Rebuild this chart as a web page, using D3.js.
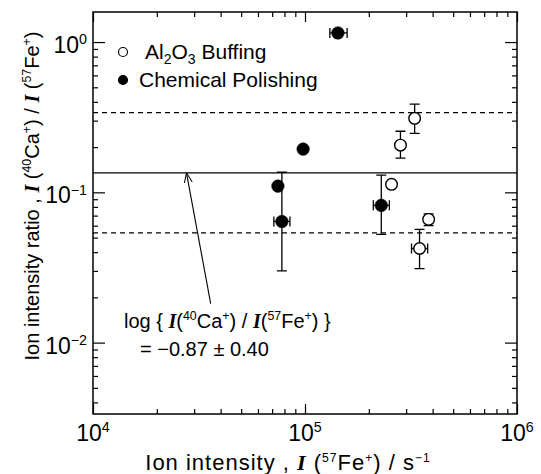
<!DOCTYPE html>
<html>
<head>
<meta charset="utf-8">
<script src="https://cdn.jsdelivr.net/npm/d3@7"></script>
<style>
  body { margin: 0; background: #fff; }
  svg { display: block; font-family: "Liberation Sans", Arial, sans-serif; }
  .frame { fill: none; stroke: #000; stroke-width: 1.5; }
  .axis path { display: none; }
  .axis line { stroke: #000; stroke-width: 1.2; }
</style>
</head>
<body>
<div id="chart"></div>
<script>
// ---- data ----
const xTicks = [1e4, 1e5, 1e6];
const xTickExp = ['4', '5', '6'];
const yTicks = [1e-2, 1e-1, 1e0];
const yTickExp = ['\u22122', '\u22121', '0'];

// Al2O3 buffing (open circles)
const buffX = [3.29e5, 2.82e5, 2.56e5, 3.83e5, 3.47e5];
const buffY = [0.311, 0.206, 0.113, 0.066, 0.0423];
const buffYLo = [0.247, 0.169, null, 0.060, 0.0311];
const buffYHi = [0.386, 0.255, null, 0.072, 0.0567];
const buffXLo = [null, null, null, null, 3.18e5];
const buffXHi = [null, null, null, null, 3.79e5];

// chemical polishing (filled circles)
const chemX = [1.43e5, 9.8e4, 7.45e4, 7.78e4, 2.29e5];
const chemY = [1.15, 0.194, 0.11, 0.064, 0.0819];
const chemYLo = [null, null, null, 0.030, 0.0525];
const chemYHi = [null, null, null, 0.136, 0.130];
const chemXLo = [1.31e5, null, null, 7.13e4, 2.10e5];
const chemXHi = [1.58e5, null, null, 8.49e4, 2.50e5];

// log mean and spread
const meanLog = -0.87;
const sdLog = 0.40;

// arrow (tail -> head), data coords
const arrowFrom = [3.59e4, 0.0182];
const arrowTo = [2.76e4, Math.pow(10, meanLog)];

const W = 541, H = 474;
const mLeft = 93, mRight = 517, mTop = 12, mBottom = 414;

const svg = d3.select('#chart').append('svg')
    .attr('width', W).attr('height', H);

const x = d3.scaleLog().domain([1e4, 1e6]).range([mLeft, mRight]);
const y = d3.scaleLog().domain([Math.pow(10, -2.475), Math.pow(10, 0.2)]).range([mBottom, mTop]);

// helper: text with superscripts / italic pieces
function richText(sel, parts, size, supScale) {
    let k = supScale || 0.62;
    let prevSup = false;
    parts.forEach(p => {
        let t = sel.append('tspan').text(p.t);
        if (p.sup && !prevSup) t.attr('font-size', size * k).attr('dy', -size * 0.38);
        else if (p.sup) t.attr('font-size', size * k);
        else if (prevSup) t.attr('dy', size * 0.38);
        if (p.it) t.attr('font-family', '"Liberation Serif", "DejaVu Serif", serif')
            .attr('font-style', 'italic').attr('font-weight', 'bold');
        prevSup = !!p.sup;
    });
}

// minor/major ticks
const xMinor = x.ticks().filter(v => xTicks.indexOf(v) < 0);
const yMinor = y.ticks().filter(v => yTicks.indexOf(v) < 0);

function tickAxis(axisFn, scale, values, size, tr) {
    svg.append('g').attr('class', 'axis')
        .attr('transform', tr)
        .call(axisFn(scale).tickValues(values).tickSize(size).tickFormat(''));
}
tickAxis(d3.axisBottom, x, xMinor, -5, `translate(0,${mBottom})`);
tickAxis(d3.axisBottom, x, xTicks, -10, `translate(0,${mBottom})`);
tickAxis(d3.axisTop, x, xMinor, -5, `translate(0,${mTop})`);
tickAxis(d3.axisTop, x, xTicks, -10, `translate(0,${mTop})`);
tickAxis(d3.axisLeft, y, yMinor, -5, `translate(${mLeft},0)`);
tickAxis(d3.axisLeft, y, yTicks, -12, `translate(${mLeft},0)`);
tickAxis(d3.axisRight, y, yMinor, -5, `translate(${mRight},0)`);
tickAxis(d3.axisRight, y, yTicks, -12, `translate(${mRight},0)`);

// frame
svg.append('rect').attr('class', 'frame')
    .attr('x', mLeft).attr('y', mTop)
    .attr('width', mRight - mLeft).attr('height', mBottom - mTop);

// tick labels
xTicks.forEach((v, i) => {
    let t = svg.append('text').attr('x', x(v)).attr('y', 441)
        .attr('text-anchor', 'middle').attr('font-size', 23);
    richText(t, [{ t: '10' }, { t: xTickExp[i], sup: true }], 23);
});
yTicks.forEach((v, i) => {
    let t = svg.append('text').attr('x', 87).attr('y', y(v) + 11)
        .attr('text-anchor', 'end').attr('font-size', 23);
    richText(t, [{ t: '10' }, { t: yTickExp[i], sup: true }], 23);
});

// axis titles
let xt = svg.append('text').attr('x', 288).attr('y', 470)
    .attr('text-anchor', 'middle').attr('font-size', 22)
    .attr('letter-spacing', 1);
richText(xt, [
    { t: 'Ion intensity ,  ' }, { t: 'I', it: true }, { t: ' (' },
    { t: '57', sup: true }, { t: 'Fe' }, { t: '+', sup: true },
    { t: ') / s' }, { t: '\u22121', sup: true }
], 22, 0.55);

let yt = svg.append('text')
    .attr('transform', 'translate(39,196) rotate(-90)')
    .attr('text-anchor', 'middle').attr('font-size', 20);
richText(yt, [
    { t: 'Ion intensity ratio ,  ' }, { t: 'I', it: true }, { t: ' (' },
    { t: '40', sup: true }, { t: 'Ca' }, { t: '+', sup: true },
    { t: ') / ' }, { t: 'I', it: true }, { t: ' (' },
    { t: '57', sup: true }, { t: 'Fe' }, { t: '+', sup: true }, { t: ')' }
], 20);

// reference lines
const lines = [
    { v: meanLog, dash: null },
    { v: meanLog + sdLog, dash: '5,4' },
    { v: meanLog - sdLog, dash: '5,4' }
];
svg.selectAll('.ref').data(lines).enter().append('line')
    .attr('class', 'ref')
    .attr('x1', mLeft).attr('x2', mRight)
    .attr('y1', d => y(Math.pow(10, d.v))).attr('y2', d => y(Math.pow(10, d.v)))
    .attr('stroke', '#000').attr('stroke-width', 1.2)
    .attr('stroke-dasharray', d => d.dash);

// arrow
svg.append('defs').append('marker')
    .attr('id', 'head').attr('viewBox', '0 0 10 10')
    .attr('refX', 10).attr('refY', 5)
    .attr('markerWidth', 10).attr('markerHeight', 10)
    .attr('markerUnits', 'userSpaceOnUse')
    .attr('orient', 'auto')
    .append('path').attr('d', 'M0,1 L10,5 L0,9')
    .attr('fill', 'none').attr('stroke', '#000').attr('stroke-width', 1);
svg.append('line')
    .attr('x1', x(arrowFrom[0])).attr('y1', y(arrowFrom[1]))
    .attr('x2', x(arrowTo[0])).attr('y2', y(arrowTo[1]))
    .attr('stroke', '#000').attr('stroke-width', 1.1)
    .attr('marker-end', 'url(#head)');

// annotation
let a1 = svg.append('text').attr('x', 124).attr('y', 328).attr('font-size', 20);
richText(a1, [
    { t: 'log { ' }, { t: 'I', it: true }, { t: '(' }, { t: '40', sup: true },
    { t: 'Ca' }, { t: '+', sup: true }, { t: ') / ' }, { t: 'I', it: true },
    { t: '(' }, { t: '57', sup: true }, { t: 'Fe' }, { t: '+', sup: true }, { t: ') }' }
], 20);
svg.append('text').attr('x', 140).attr('y', 356).attr('font-size', 20)
    .text('= \u22120.87 \u00b1 0.40');

// error bars + markers
function series(xs, ys, yLo, yHi, xLo, xHi, filled) {
    let g = svg.append('g');
    let data = xs.map((v, i) => ({ x: v, y: ys[i], ylo: yLo[i], yhi: yHi[i], xlo: xLo[i], xhi: xHi[i] }));
    let cap = 5;

    data.filter(d => d.ylo != null).forEach(d => {
        let cx = x(d.x);
        g.append('path')
            .attr('d', `M${cx},${y(d.ylo)}V${y(d.yhi)}M${cx - cap},${y(d.ylo)}H${cx + cap}M${cx - cap},${y(d.yhi)}H${cx + cap}`)
            .attr('stroke', '#000').attr('stroke-width', 1.3).attr('fill', 'none');
    });
    data.filter(d => d.xlo != null).forEach(d => {
        let cy = y(d.y);
        g.append('path')
            .attr('d', `M${x(d.xlo)},${cy}H${x(d.xhi)}M${x(d.xlo)},${cy - cap}V${cy + cap}M${x(d.xhi)},${cy - cap}V${cy + cap}`)
            .attr('stroke', '#000').attr('stroke-width', 1.3).attr('fill', 'none');
    });

    g.selectAll('circle').data(data).enter().append('circle')
        .attr('cx', d => x(d.x)).attr('cy', d => y(d.y))
        .attr('r', filled ? 6.3 : 5.8)
        .attr('fill', filled ? '#000' : '#fff')
        .attr('stroke', '#000').attr('stroke-width', filled ? 0.5 : 1.4);
}
series(buffX, buffY, buffYLo, buffYHi, buffXLo, buffXHi, false);
series(chemX, chemY, chemYLo, chemYHi, chemXLo, chemXHi, true);

// legend
const legend = [
    { label: [{ t: 'Al' }, { t: '2', sub: true }, { t: 'O' }, { t: '3', sub: true }, { t: ' Buffing' }], filled: false, ty: 59, tx: 145 },
    { label: [{ t: 'Chemical Polishing' }], filled: true, ty: 87, tx: 139 }
];
legend.forEach(l => {
    let cy = l.ty - 7;
    svg.append('circle').attr('cx', 123).attr('cy', cy).attr('r', 4.5)
        .attr('fill', l.filled ? '#000' : '#fff').attr('stroke', '#000').attr('stroke-width', 1.2);
    let t = svg.append('text').attr('x', l.tx).attr('y', l.ty).attr('font-size', 21);
    let prevSub = false;
    l.label.forEach(p => {
        let ts = t.append('tspan').text(p.t);
        if (p.sub) ts.attr('font-size', 14).attr('dy', prevSub ? 0 : 5);
        else if (prevSub) ts.attr('dy', -5);
        prevSub = !!p.sub;
    });
});
</script>
</body>
</html>
